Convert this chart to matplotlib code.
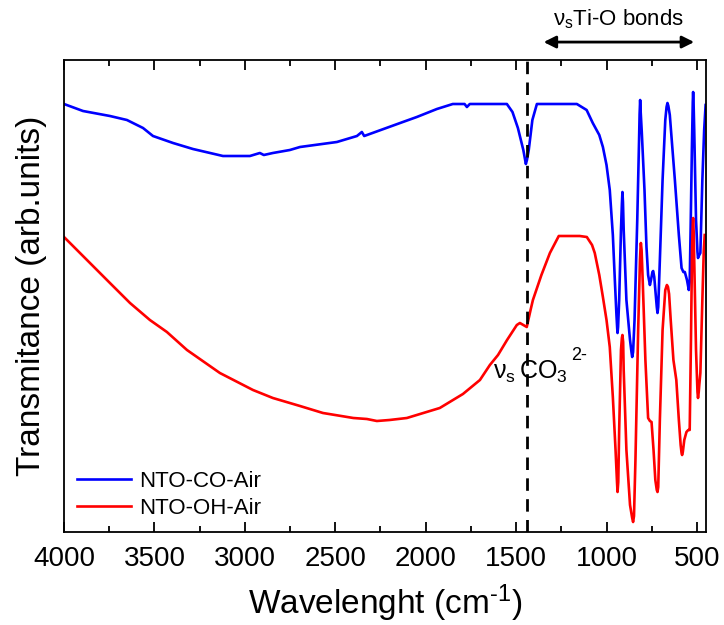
import matplotlib
matplotlib.use('Agg')
import matplotlib.pyplot as plt
from matplotlib.ticker import MultipleLocator

plt.rcParams['font.family'] = ['Liberation Sans', 'DejaVu Sans']
plt.rcParams['mathtext.default'] = 'regular'

# FTIR spectra (wavenumber in cm-1, transmittance in arb. units)
wn_co = [4000, 3895, 3746, 3652, 3563, 3508, 3397, 3287, 3121, 2972, 2917, 2895,
         2845, 2751, 2695, 2491, 2380, 2353, 2340, 2126, 2049, 1938, 1850, 1785,
         1772, 1756, 1645, 1551, 1520, 1490, 1460, 1450, 1446, 1440, 1430, 1410,
         1385, 1300, 1164, 1110, 1076, 1040, 1020, 1000, 982, 965, 954, 945, 941,
         939, 936, 930, 920, 915, 912, 909, 905, 890, 870, 862, 858, 853, 845,
         830, 820, 817, 814, 811, 805, 790, 779, 770, 760, 754, 751, 746, 742,
         736, 730, 722, 718, 714, 705, 690, 675, 668, 663, 658, 650, 635, 622,
         600, 585, 575, 567, 555, 548, 545, 540, 535, 528, 523, 521, 518, 515,
         505, 497, 494, 490, 487, 481, 470, 460, 452]
tr_co = [428, 421, 416, 412, 404, 396, 389, 383, 376, 376, 379, 377,
         379, 382, 385, 390, 396, 400, 396, 410, 415, 423, 428, 428,
         425, 428, 428, 428, 420, 404, 382, 372, 368, 372, 382, 412,
         428, 428, 428, 422, 409, 397, 385, 367, 342, 297, 252, 217, 204,
         199, 205, 232, 302, 328, 340, 330, 302, 232, 192, 180, 175, 180, 212,
         312, 392, 418, 432, 420, 400, 342, 285, 257, 247, 252, 255, 260, 261,
         255, 242, 225, 219, 225, 272, 352, 412, 425, 429, 426, 417, 382, 352,
         297, 264, 260, 260, 252, 245, 242, 250, 302, 382, 430, 440, 425, 402,
         312, 280, 274, 276, 277, 279, 352, 402, 427]

wn_oh = [4000, 3873, 3746, 3635, 3525, 3431, 3320, 3138, 2955, 2845, 2695, 2568,
         2400, 2325, 2270, 2200, 2104, 1922, 1794, 1700, 1645, 1600, 1550, 1496,
         1479, 1460, 1441, 1420, 1407, 1360, 1313, 1264, 1200, 1148, 1109, 1080,
         1065, 1040, 1020, 1000, 982, 965, 950, 942, 939, 935, 930, 920, 915,
         912, 908, 905, 890, 870, 858, 853, 848, 840, 825, 815, 812, 810, 806,
         800, 785, 770, 760, 751, 740, 730, 722, 718, 714, 705, 690, 675, 666,
         660, 654, 645, 630, 614, 600, 590, 585, 582, 578, 570, 558, 548, 540,
         533, 527, 523, 521, 518, 515, 505, 497, 494, 490, 487, 481, 470, 462,
         457]
tr_oh = [295, 272, 249, 229, 212, 200, 182, 159, 142, 134, 126, 119,
         114, 113, 111, 112, 114, 124, 138, 152, 167, 177, 192, 207,
         209, 207, 205, 222, 232, 257, 279, 296, 296, 296, 295, 287,
         279, 257, 235, 212, 185, 135, 82, 50, 40, 50, 102, 182, 194,
         197, 190, 162, 82, 27, 14, 10, 16, 72, 202, 272, 284, 289, 282,
         252, 172, 114, 111, 110, 82, 52, 42, 40, 45, 112, 202, 242, 247,
         245, 238, 212, 172, 152, 112, 87, 79, 77, 80, 92, 100, 102, 102,
         192, 282, 308, 314, 300, 272, 182, 140, 134, 140, 147, 159, 232, 282,
         297]

carbonate_wn = 1441
tio_band = (1363, 500)

fig = plt.figure(figsize=(7.24, 6.25), dpi=100)
ax = fig.add_axes([0.0884, 0.1488, 0.8867, 0.7552])

ax.plot(wn_co, tr_co, color='#0000ff', lw=1.9, label='NTO-CO-Air')
ax.plot(wn_oh, tr_oh, color='#ff0000', lw=1.9, label='NTO-OH-Air')
ax.axvline(carbonate_wn, color='black', ls=(0, (4.5, 3)), lw=2)

ax.set_xlim(4000, 450)
ax.set_ylim(0, 472)
ax.xaxis.set_major_locator(MultipleLocator(500))
ax.xaxis.set_minor_locator(MultipleLocator(250))
ax.tick_params(axis='x', which='both', direction='in', top=True, labelsize=20, pad=10)
ax.tick_params(axis='x', which='major', length=7, width=1.3)
ax.tick_params(axis='x', which='minor', length=4, width=1.3)
ax.set_yticks([])
for sp in ax.spines.values():
    sp.set_linewidth(1.3)

ax.set_xlabel('Wavelenght (cm$^{\u20101}$)', fontsize=24, labelpad=8)
ax.set_ylabel('Transmitance (arb.units)', fontsize=24, labelpad=12)

ax.legend(loc='lower left', frameon=False, fontsize=16, handlelength=2.4,
          handletextpad=0.4, borderaxespad=0.2, labelspacing=0.25,
          bbox_to_anchor=(0.0, 0.0))

# carbonate band label; superscript raised a bit above the subscript
ax.text(1630, 153, 'ν$_s\\,$CO$_3$', fontsize=18, ha='left', va='baseline')
ax.text(1195, 172, '2\u2010', fontsize=13, ha='left', va='baseline')

ax.annotate('', xy=(tio_band[1], 1.038), xytext=(tio_band[0], 1.038),
            xycoords=('data', 'axes fraction'), annotation_clip=False,
            arrowprops=dict(arrowstyle='<|-|>', color='black', lw=2, mutation_scale=18))
ax.text(sum(tio_band) / 2, 1.062, 'ν$_s$Ti-O bonds', fontsize=16, ha='center',
        va='bottom', transform=ax.get_xaxis_transform())

fig.savefig('out.png', dpi=100)
